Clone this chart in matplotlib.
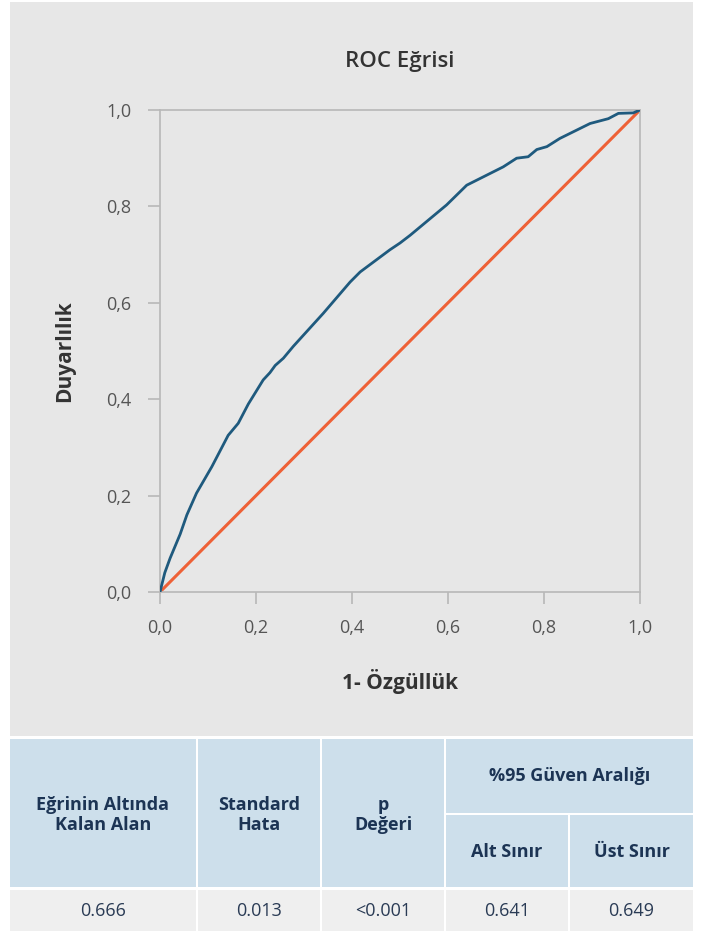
import matplotlib.pyplot as plt
from matplotlib.patches import Rectangle
import numpy as np

plt.rcParams['font.family'] = ['Open Sans', 'DejaVu Sans']

# ROC curve points
fpr = [0.0, 0.01, 0.021, 0.042, 0.056, 0.076, 0.108, 0.142, 0.163, 0.184, 0.215, 0.229,
       0.24, 0.257, 0.278, 0.34, 0.396, 0.417, 0.479, 0.5, 0.521, 0.597, 0.639, 0.715,
       0.743, 0.767, 0.785, 0.806, 0.833, 0.896, 0.934, 0.955, 0.986, 1.0]
tpr = [0.0, 0.04, 0.07, 0.12, 0.16, 0.205, 0.26, 0.325, 0.35, 0.39, 0.44, 0.455,
       0.47, 0.485, 0.51, 0.578, 0.643, 0.664, 0.71, 0.724, 0.74, 0.803, 0.844, 0.882,
       0.9, 0.903, 0.918, 0.924, 0.941, 0.972, 0.982, 0.993, 0.994, 1.0]
ref_line = [0.0, 1.0]
ticks = [0.0, 0.2, 0.4, 0.6, 0.8, 1.0]

# table contents
head_cols = ['Eğrinin Altında\nKalan Alan', 'Standard\nHata', 'p\nDeğeri']
ci_title = '%95 Güven Aralığı'
ci_cols = ['Alt Sınır', 'Üst Sınır']
row_values = ['0.666', '0.013', '<0.001', '0.641', '0.649']

W, H = 703, 931
fig = plt.figure(figsize=(W / 100, H / 100), dpi=100)
fig.patch.set_facecolor('white')

bg = '#e7e7e7'
navy = '#1c3454'

# gray panel behind the chart
fig.patches.append(Rectangle((10 / W, 1 - 736 / H), 683 / W, 734 / H,
                             transform=fig.transFigure, facecolor=bg, edgecolor='none', zorder=-5))

ax = fig.add_axes([160 / W, 1 - 592 / H, 480 / W, 482 / H])
ax.set_facecolor(bg)
ax.plot(ref_line, ref_line, color='#ee6137', lw=2.2, solid_capstyle='round', zorder=2)
ax.plot(fpr, tpr, color='#1f5a7e', lw=2.0, solid_joinstyle='round', zorder=3)
ax.set_xlim(0, 1)
ax.set_ylim(0, 1)
ax.set_xticks(ticks)
ax.set_yticks(ticks)
lbls = [f'{t:.1f}'.replace('.', ',') for t in ticks]
ax.set_xticklabels(lbls)
ax.set_yticklabels(lbls)
for s in ax.spines.values():
    s.set_color('#b8b8b8')
    s.set_linewidth(1.2)
ax.tick_params(colors='#b8b8b8', labelcolor='#555555', labelsize=13, length=8.6, width=1.2)
ax.tick_params(axis='y', pad=12)
ax.tick_params(axis='x', pad=11)
ax.set_title('ROC Eğrisi', fontsize=16, fontweight='semibold', color='#333333', pad=31)
ax.set_xlabel('1- Özgüllük', fontsize=15, fontweight='bold', color='#333333', va='center')
ax.set_ylabel('Duyarlılık', fontsize=15, fontweight='bold', color='#333333', va='center')
ax.xaxis.set_label_coords(0.5, (592 - 682) / 482)
ax.yaxis.set_label_coords((65 - 160) / 480, 0.5)

# table drawn in pixel coordinates
tax = fig.add_axes([0, 0, 1, 1], zorder=-1)
tax.set_xlim(0, W)
tax.set_ylim(H, 0)
tax.axis('off')

hdr = '#cddfeb'
rowc = '#efefef'
cols_x = [(10, 196), (198, 320), (322, 444), (446, 568), (570, 693)]
top, mid, hbot, rtop, rbot = 739, 813, 887, 890, 931
fs = 13

for i, (x0, x1) in enumerate(cols_x[:3]):
    tax.add_patch(Rectangle((x0, top), x1 - x0, hbot - top, facecolor=hdr, edgecolor='none'))
    tax.text((x0 + x1) / 2, (top + hbot) / 2 + 2, head_cols[i], ha='center', va='center',
             fontsize=fs, fontweight='bold', color=navy, linespacing=1.1)
tax.add_patch(Rectangle((446, top), 693 - 446, mid - top, facecolor=hdr, edgecolor='none'))
tax.text((446 + 693) / 2, (top + mid) / 2, ci_title, ha='center', va='center',
         fontsize=fs, fontweight='bold', color=navy)
for j, (x0, x1) in enumerate(cols_x[3:]):
    tax.add_patch(Rectangle((x0, mid + 2), x1 - x0, hbot - mid - 2, facecolor=hdr, edgecolor='none'))
    tax.text((x0 + x1) / 2, (mid + hbot) / 2 + 2, ci_cols[j], ha='center', va='center',
             fontsize=fs, fontweight='bold', color=navy)
for k, (x0, x1) in enumerate(cols_x):
    tax.add_patch(Rectangle((x0, rtop), x1 - x0, rbot - rtop, facecolor=rowc, edgecolor='none'))
    tax.text((x0 + x1) / 2, (rtop + rbot) / 2, row_values[k], ha='center', va='center',
             fontsize=fs, color='#2a3b55')

fig.savefig('out.png', dpi=100, facecolor='white')
